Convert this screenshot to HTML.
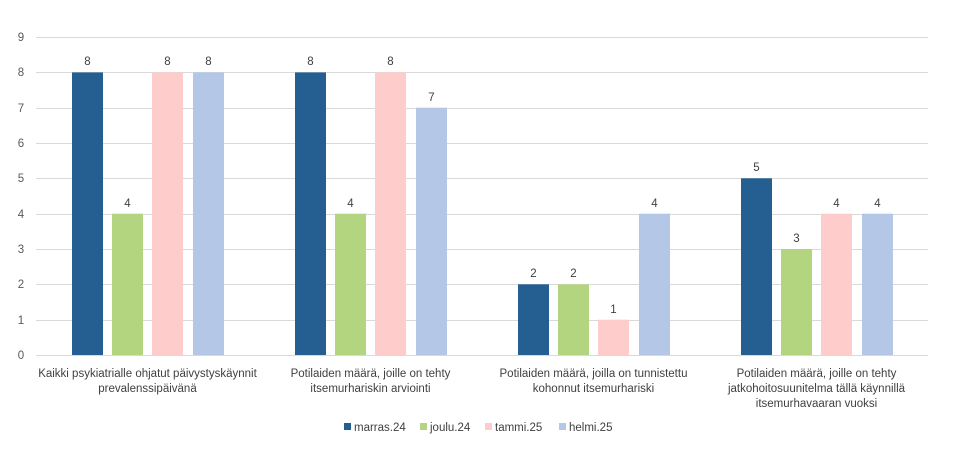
<!DOCTYPE html>
<html><head><meta charset="utf-8"><style>
html,body{margin:0;padding:0;background:#fff;}
svg{display:block;font-family:"Liberation Sans",Arial,sans-serif;}
</style></head><body>
<svg width="970" height="460" viewBox="0 0 970 460" xmlns="http://www.w3.org/2000/svg">
<rect width="970" height="460" fill="#fff"/>
<g stroke="#d9d9d9" stroke-width="1">
<line x1="36" x2="928" y1="37.5" y2="37.5"/>
<line x1="36" x2="928" y1="72.5" y2="72.5"/>
<line x1="36" x2="928" y1="108.5" y2="108.5"/>
<line x1="36" x2="928" y1="143.5" y2="143.5"/>
<line x1="36" x2="928" y1="178.5" y2="178.5"/>
<line x1="36" x2="928" y1="214.5" y2="214.5"/>
<line x1="36" x2="928" y1="249.5" y2="249.5"/>
<line x1="36" x2="928" y1="284.5" y2="284.5"/>
<line x1="36" x2="928" y1="320.5" y2="320.5"/>
<line x1="36" x2="928" y1="355.5" y2="355.5"/>
</g>
<g font-size="11.5" fill="#595959" text-anchor="middle">
<text x="21" y="41">9</text><text x="21" y="76">8</text><text x="21" y="112">7</text>
<text x="21" y="147">6</text><text x="21" y="182">5</text><text x="21" y="218">4</text>
<text x="21" y="253">3</text><text x="21" y="288">2</text><text x="21" y="324">1</text>
<text x="21" y="359">0</text>
</g>
<!-- group 1 -->
<rect x="72" y="72.4" width="31" height="282.6" fill="#255E91"/>
<rect x="112" y="213.7" width="31" height="141.3" fill="#B3D580"/>
<rect x="152" y="72.4" width="31" height="282.6" fill="#FFCCCC"/>
<rect x="193" y="72.4" width="31" height="282.6" fill="#B4C7E7"/>
<!-- group 2 -->
<rect x="295" y="72.4" width="31" height="282.6" fill="#255E91"/>
<rect x="335" y="213.7" width="31" height="141.3" fill="#B3D580"/>
<rect x="375" y="72.4" width="31" height="282.6" fill="#FFCCCC"/>
<rect x="416" y="107.7" width="31" height="247.3" fill="#B4C7E7"/>
<!-- group 3 -->
<rect x="518" y="284.3" width="31" height="70.7" fill="#255E91"/>
<rect x="558" y="284.3" width="31" height="70.7" fill="#B3D580"/>
<rect x="598" y="319.7" width="31" height="35.3" fill="#FFCCCC"/>
<rect x="639" y="213.7" width="31" height="141.3" fill="#B4C7E7"/>
<!-- group 4 -->
<rect x="741" y="178.3" width="31" height="176.7" fill="#255E91"/>
<rect x="781" y="249" width="31" height="106" fill="#B3D580"/>
<rect x="821" y="213.7" width="31" height="141.3" fill="#FFCCCC"/>
<rect x="862" y="213.7" width="31" height="141.3" fill="#B4C7E7"/>
<g font-size="11.5" fill="#404040" text-anchor="middle">
<text x="87.5" y="65">8</text><text x="127.5" y="207">4</text><text x="167.5" y="65">8</text><text x="208.5" y="65">8</text>
<text x="310.5" y="65">8</text><text x="350.5" y="207">4</text><text x="390.5" y="65">8</text><text x="431.5" y="101">7</text>
<text x="533.5" y="277">2</text><text x="573.5" y="277">2</text><text x="613.5" y="313">1</text><text x="654.5" y="207">4</text>
<text x="756.5" y="171">5</text><text x="796.5" y="242">3</text><text x="836.5" y="207">4</text><text x="877.5" y="207">4</text>
</g>
<g font-size="11.5" fill="#404040" text-anchor="middle">
<text x="147.5" y="377">Kaikki psykiatrialle ohjatut päivystyskäynnit</text>
<text x="147.5" y="392">prevalenssipäivänä</text>
<text x="370.5" y="377">Potilaiden määrä, joille on tehty</text>
<text x="370.5" y="392">itsemurhariskin arviointi</text>
<text x="593.5" y="377">Potilaiden määrä, joilla on tunnistettu</text>
<text x="593.5" y="392">kohonnut itsemurhariski</text>
<text x="816.5" y="377">Potilaiden määrä, joille on tehty</text>
<text x="816.5" y="392">jatkohoitosuunitelma tällä käynnillä</text>
<text x="816.5" y="407">itsemurhavaaran vuoksi</text>
</g>
<g font-size="11.5" fill="#404040">
<rect x="344" y="423" width="7" height="7" fill="#255E91"/><text x="354" y="431">marras.24</text>
<rect x="420" y="423" width="7" height="7" fill="#B3D580"/><text x="430" y="431">joulu.24</text>
<rect x="485" y="423" width="7" height="7" fill="#FFCCCC"/><text x="495" y="431">tammi.25</text>
<rect x="559" y="423" width="7" height="7" fill="#B4C7E7"/><text x="569" y="431">helmi.25</text>
</g>
</svg>
</body></html>
